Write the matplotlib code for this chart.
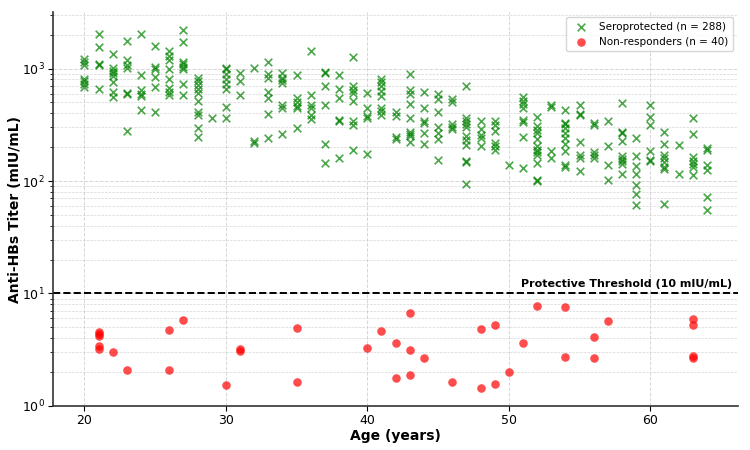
import matplotlib
matplotlib.use("Agg")
import matplotlib.pyplot as plt
import numpy as np

# Seroprotected: titer values grouped by age
sero_by_age = {
    20: [1220, 1140, 1080, 810, 770, 730, 680],
    21: [2050, 1570, 1100, 1080, 655],
    22: [1340, 1010, 950, 910, 860, 760, 620, 555],
    23: [1770, 1180, 1080, 1010, 610, 590, 277],
    24: [2010, 880, 640, 590, 565, 430],
    25: [1590, 1040, 1000, 850, 685, 410],
    26: [1430, 1300, 1190, 1000, 800, 670, 625, 585],
    27: [2200, 1740, 1150, 1090, 1040, 990, 730, 585],
    28: [830, 780, 720, 660, 610, 520, 410, 385, 296, 245],
    29: [360],
    30: [1010, 990, 890, 810, 730, 655, 455, 360],
    31: [910, 770, 585],
    32: [1005, 226, 218],
    33: [1140, 890, 820, 618, 545, 394, 242],
    34: [910, 830, 790, 740, 477, 450, 263],
    35: [880, 545, 505, 460, 445, 296],
    36: [1430, 577, 470, 445, 390, 355],
    37: [940, 915, 707, 477, 214, 146],
    38: [880, 660, 550, 350, 340, 160],
    39: [1260, 693, 650, 610, 517, 340, 317, 190],
    40: [605, 450, 380, 360, 175],
    41: [800, 765, 693, 626, 565, 450, 420, 385],
    42: [410, 376, 245, 238],
    43: [890, 650, 590, 483, 360, 275, 262, 250, 223],
    44: [613, 446, 340, 325, 268, 214],
    45: [590, 540, 410, 300, 265, 234, 155],
    46: [540, 500, 320, 300, 290],
    47: [693, 360, 340, 320, 305, 250, 230, 208, 150, 147, 94],
    48: [340, 290, 255, 240, 204],
    49: [340, 313, 277, 220, 205, 190],
    50: [140],
    51: [555, 517, 483, 450, 350, 338, 245, 130],
    52: [368, 307, 285, 265, 235, 205, 190, 180, 170, 146, 103, 100],
    53: [470, 455, 186, 160],
    54: [430, 330, 320, 296, 268, 240, 214, 184, 138, 132],
    55: [470, 398, 388, 223, 172, 160, 122],
    56: [330, 318, 180, 170, 160],
    57: [345, 204, 138, 102],
    58: [495, 275, 265, 226, 166, 158, 150, 143, 115],
    59: [240, 166, 136, 115, 92, 77, 61],
    60: [470, 368, 313, 186, 155, 150],
    61: [272, 214, 172, 160, 148, 132, 128, 63],
    62: [208, 116],
    63: [363, 262, 162, 150, 142, 134, 113],
    64: [198, 190, 138, 125, 72, 55],
}

# Non-responders
nonresp_age = [21, 21, 21, 21, 21, 22, 23, 26, 26, 27, 30, 31, 31, 35, 35,
               40, 41, 42, 42, 43, 43, 43, 44, 46, 48, 48, 49, 49, 50, 51,
               52, 54, 54, 56, 56, 57, 63, 63, 63, 63]
nonresp_titer = [4.54, 4.33, 4.16, 3.40, 3.19, 3.03, 2.08, 4.77, 2.07, 5.77,
                 1.53, 3.19, 3.08, 4.97, 1.62, 3.26, 4.61, 3.59, 1.78, 6.69,
                 3.13, 1.88, 2.68, 1.64, 4.87, 1.43, 5.24, 1.57, 2.01, 3.66,
                 7.78, 7.62, 2.75, 4.06, 2.68, 5.69, 5.97, 5.28, 2.77, 2.64]

threshold = 10

sero_age = [a for a, vals in sero_by_age.items() for _ in vals]
sero_titer = [v for vals in sero_by_age.values() for v in vals]

fig = plt.figure(figsize=(7.5, 4.5), dpi=100)
ax = fig.add_axes([0.071, 0.098, 0.913, 0.875])

ax.scatter(sero_age, sero_titer, marker='x', color='green', alpha=0.7, s=30,
           linewidths=1.2, label=f'Seroprotected (n = {len(sero_titer)})', zorder=3)
ax.scatter(nonresp_age, nonresp_titer, marker='o', color='red', alpha=0.7, s=38,
           linewidths=0, label=f'Non-responders (n = {len(nonresp_titer)})', zorder=3)

ax.set_yscale('log')
ax.set_ylim(bottom=1)
ax.axhline(threshold, color='black', linestyle='--', linewidth=1.4, zorder=2)
ax.text(65.8, threshold * 1.09, 'Protective Threshold (10 mIU/mL)', ha='right',
        va='bottom', fontsize=8, fontweight='bold')

ax.grid(True, which='major', linestyle='--', linewidth=0.7, color='#cccccc', alpha=0.8)
ax.grid(True, which='minor', axis='y', linestyle='--', linewidth=0.5, color='#cccccc', alpha=0.8)

ax.set_xlabel('Age (years)', fontsize=10, fontweight='bold', labelpad=1)
ax.set_ylabel('Anti-HBs Titer (mIU/mL)', fontsize=10, fontweight='bold', labelpad=0)
ax.tick_params(labelsize=9, pad=2.5)

for s in ['top', 'right']:
    ax.spines[s].set_visible(False)
for s in ['left', 'bottom']:
    ax.spines[s].set_color('#333333')
    ax.spines[s].set_linewidth(1.2)

ax.legend(loc='upper right', fontsize=7.5, frameon=True)

fig.savefig('out.png', dpi=100)
